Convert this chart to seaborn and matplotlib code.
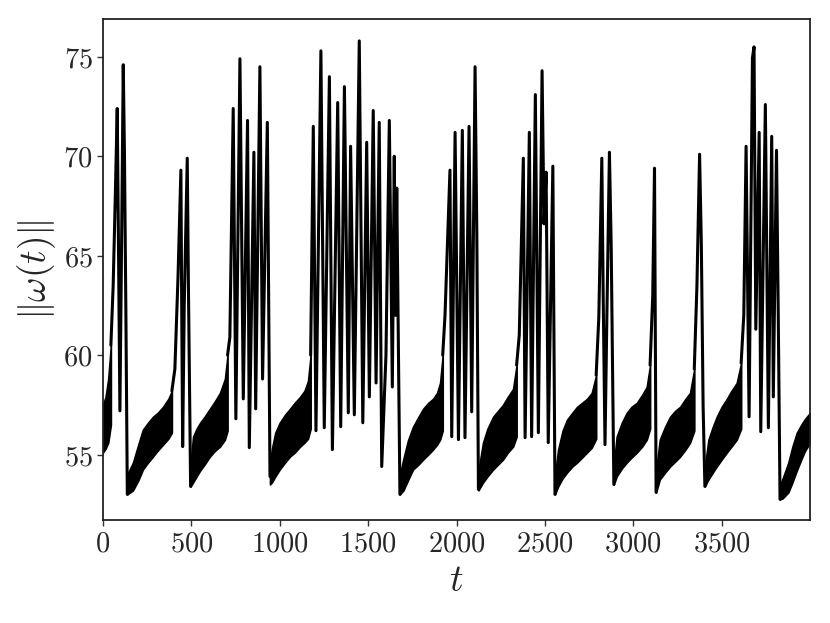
import pandas as pd
import seaborn as sns
import matplotlib
matplotlib.use("Agg")
import matplotlib.pyplot as plt

# valeurs : bouffees (lignes) et phases calmes (bandes)
burst_t = [
    [45, 58, 70, 81, 88, 96, 106, 115, 122, 130, 138],
    [390, 407, 425, 441, 446, 451, 460, 477, 483, 496],
    [705, 718, 737, 752, 775, 794, 818, 828, 854, 864, 888, 903, 930, 945],
    [1175, 1190, 1205, 1233, 1252, 1281, 1298, 1328, 1345, 1366, 1388, 1401, 1422, 1450,
     1470, 1492, 1507, 1529, 1545, 1563, 1577, 1601, 1620, 1637, 1648, 1655, 1662, 1680],
    [1922, 1935, 1963, 1973, 1992, 2011, 2033, 2048, 2071, 2086, 2105, 2115, 2124],
    [2340, 2355, 2378, 2388, 2412, 2425, 2446, 2463, 2484, 2495, 2507, 2519, 2545, 2557],
    [2790, 2805, 2822, 2830, 2840, 2850, 2865, 2875, 2890],
    [3095, 3110, 3120, 3129],
    [3345, 3360, 3375, 3385, 3395, 3405],
    [3610, 3625, 3638, 3655, 3674, 3683, 3693, 3712, 3721, 3747, 3764, 3783, 3792, 3810, 3820, 3830],
]
burst_w = [
    [60.5, 63.5, 68.0, 72.4, 65.5, 57.2, 66.0, 74.6, 70.0, 62.0, 53.0],
    [58.2, 59.3, 64.0, 69.3, 62.0, 55.4, 62.5, 69.9, 64.0, 53.4],
    [60.0, 60.9, 72.4, 56.8, 74.9, 57.8, 71.8, 55.35, 70.2, 57.3, 74.5, 58.8, 71.7, 53.9],
    [60.0, 71.5, 56.2, 75.3, 56.35, 74.0, 55.25, 72.7, 56.4, 73.5, 57.1, 70.5, 57.0, 75.8,
     56.6, 70.7, 57.9, 72.3, 58.6, 71.7, 54.4, 60.0, 71.8, 58.4, 70.0, 62.0, 68.4, 53.0],
    [60.0, 62.0, 69.3, 55.9, 71.2, 55.75, 71.3, 55.85, 71.5, 57.15, 74.5, 66.0, 53.25],
    [59.5, 61.0, 69.9, 55.85, 71.2, 55.9, 73.1, 56.1, 74.3, 66.6, 69.2, 55.6, 69.5, 53.0],
    [59.0, 61.9, 69.9, 62.8, 55.5, 61.6, 70.2, 65.5, 53.5],
    [59.5, 63.0, 69.4, 53.1],
    [59.3, 63.5, 70.1, 65.5, 57.4, 53.4],
    [59.6, 62.0, 70.5, 56.9, 74.95, 75.5, 61.3, 71.2, 56.15, 72.6, 56.35, 71.0, 57.9, 70.3, 62.0, 52.75],
]

band_t = [
    [0, 15, 30, 45],
    [138, 170, 200, 226, 255, 283, 310, 340, 370, 390],
    [496, 510, 530, 550, 575, 605, 635, 662, 690, 705],
    [945, 956, 975, 1000, 1030, 1058, 1085, 1115, 1140, 1160, 1175],
    [1680, 1700, 1725, 1754, 1785, 1811, 1840, 1867, 1890, 1907, 1922],
    [2124, 2150, 2175, 2207, 2235, 2263, 2290, 2320, 2340],
    [2557, 2575, 2600, 2625, 2655, 2682, 2710, 2738, 2765, 2790],
    [2890, 2906, 2935, 2963, 2990, 3020, 3050, 3076, 3095],
    [3129, 3150, 3180, 3208, 3237, 3265, 3295, 3321, 3345],
    [3405, 3425, 3450, 3472, 3500, 3529, 3555, 3585, 3610],
    [3830, 3845, 3877, 3900, 3925, 3950, 3972, 4000],
]
band_lo = [
    [55.1, 55.3, 55.6, 56.5],
    [53.0, 53.2, 53.7, 54.25, 54.6, 54.9, 55.2, 55.5, 55.8, 56.1],
    [53.4, 53.6, 53.9, 54.2, 54.5, 54.9, 55.2, 55.4, 55.75, 56.2],
    [53.5, 53.6, 53.9, 54.25, 54.6, 54.9, 55.1, 55.4, 55.6, 55.8, 56.3],
    [53.0, 53.2, 53.7, 54.25, 54.5, 54.75, 55.0, 55.25, 55.5, 55.75, 56.2],
    [53.2, 53.6, 53.9, 54.25, 54.5, 54.75, 55.1, 55.4, 55.9],
    [53.0, 53.4, 53.8, 54.1, 54.4, 54.6, 54.85, 55.1, 55.35, 55.8],
    [53.5, 53.9, 54.3, 54.6, 54.85, 55.1, 55.4, 55.75, 56.3],
    [53.1, 53.75, 54.1, 54.4, 54.65, 54.9, 55.25, 55.6, 56.2],
    [53.4, 53.75, 54.1, 54.4, 54.75, 55.1, 55.4, 55.75, 56.3],
    [52.75, 52.8, 53.1, 53.6, 54.2, 54.75, 55.2, 55.6],
]
band_hi = [
    [57.5, 57.9, 58.8, 60.5],
    [54.0, 54.6, 55.5, 56.25, 56.6, 56.9, 57.1, 57.4, 57.8, 58.2],
    [54.6, 55.9, 56.3, 56.6, 56.9, 57.3, 57.7, 58.1, 58.8, 60.0],
    [54.5, 55.3, 56.1, 56.6, 57.0, 57.3, 57.6, 57.9, 58.2, 58.7, 60.0],
    [54.0, 54.8, 55.7, 56.4, 56.9, 57.3, 57.6, 57.8, 58.1, 58.6, 60.0],
    [54.2, 55.6, 56.3, 56.9, 57.2, 57.5, 57.9, 58.3, 59.5],
    [54.0, 55.25, 56.2, 56.75, 57.1, 57.4, 57.6, 57.8, 58.1, 59.0],
    [54.5, 55.9, 56.6, 57.1, 57.4, 57.6, 58.0, 58.4, 59.5],
    [54.2, 55.75, 56.4, 56.9, 57.2, 57.4, 57.8, 58.1, 59.3],
    [54.4, 55.75, 56.4, 56.9, 57.4, 57.8, 58.2, 58.6, 59.6],
    [53.5, 53.8, 54.6, 55.4, 56.1, 56.5, 56.8, 57.1],
]

x_ticks = [0, 500, 1000, 1500, 2000, 2500, 3000, 3500]
y_ticks = [55, 60, 65, 70, 75]

sns.set_style("ticks")
plt.rcParams["mathtext.fontset"] = "cm"
plt.rcParams["font.family"] = ["DejaVu Serif"]

rows = []
for i, (ts, ws) in enumerate(zip(burst_t, burst_w)):
    for t, w in zip(ts, ws):
        rows.append({"burst": i, "t": t, "w": w})
df = pd.DataFrame(rows)

fig = plt.figure(figsize=(8.3, 6.23), dpi=100)
ax = fig.add_axes([0.124, 0.165, 0.852, 0.8045])

for ts, lo, hi in zip(band_t, band_lo, band_hi):
    ax.fill_between(ts, lo, hi, color="black", lw=1.2)

sns.lineplot(data=df, x="t", y="w", units="burst", estimator=None, sort=False,
             color="black", lw=2.2, ax=ax, legend=False)

ax.set_xlim(0, 4000)
ax.set_ylim(51.7, 76.9)
ax.set_xticks(x_ticks, labels=[f"${v}$" for v in x_ticks])
ax.set_yticks(y_ticks, labels=[f"${v}$" for v in y_ticks])
ax.tick_params(labelsize=20.5, length=4, width=1, color="#333333")
ax.set_xlabel(r"$t$", fontsize=27)
ax.set_ylabel(r"$\Vert\omega(t)\Vert$", fontsize=27)
for sp in ax.spines.values():
    sp.set_linewidth(1.3)
    sp.set_color("#222222")

fig.savefig("out.png", dpi=100)
